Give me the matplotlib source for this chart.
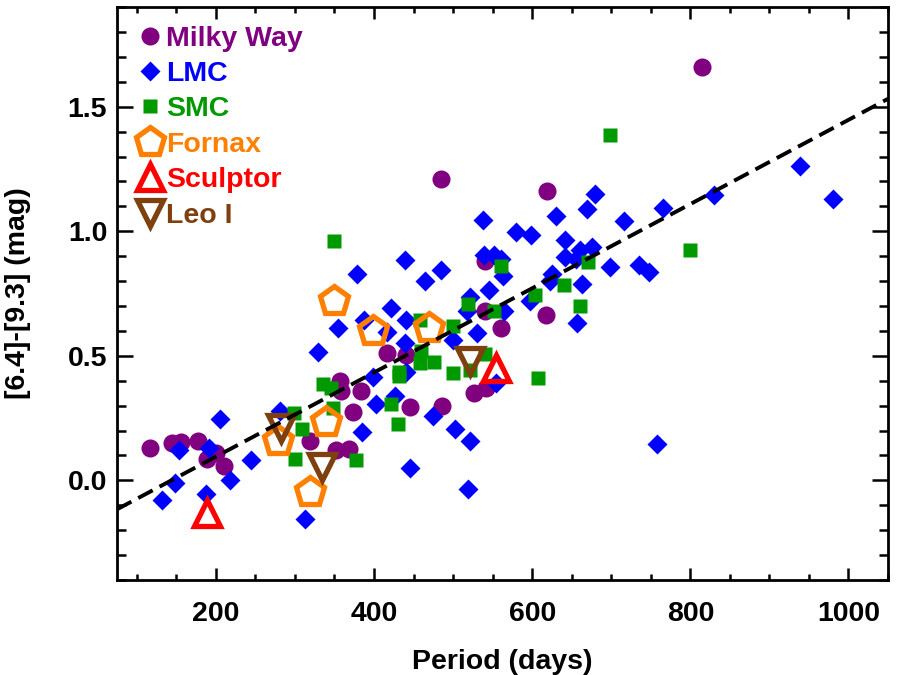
import numpy as np
import matplotlib
matplotlib.use("Agg")
import matplotlib.pyplot as plt
from matplotlib.ticker import MultipleLocator

plt.rcParams['font.family'] = ['Liberation Sans', 'DejaVu Sans']
plt.rcParams['font.weight'] = 'bold'

# period (days), [6.4]-[9.3] colour (mag)
mw_p = [117, 145, 156, 178, 189, 200, 210, 319, 352, 369, 357, 358, 384, 374,
        417, 440, 446, 486, 485, 527, 542, 540, 540, 561, 617, 619, 815]
mw_c = [0.13, 0.15, 0.155, 0.16, 0.085, 0.11, 0.057, 0.16, 0.12, 0.125, 0.40, 0.36,
        0.36, 0.275, 0.51, 0.505, 0.295, 0.297, 1.21, 0.35, 0.37, 0.88, 0.68, 0.61,
        0.665, 1.16, 1.66]

lmc_p = [132, 149, 153, 187, 191, 205, 218, 245, 281, 313, 329, 355, 379, 385, 388,
         399, 403, 417, 422, 426, 439, 439, 441, 440, 445, 465, 474, 485, 500, 502,
         517, 519, 521, 522, 530, 538, 539, 546, 552, 554, 561, 563, 565, 579, 597,
         599, 623, 625, 630, 641, 641, 656, 657, 660, 663, 669, 676, 680, 699, 716,
         735, 748, 758, 765, 830, 939, 980]
lmc_c = [-0.08, -0.01, 0.12, -0.055, 0.13, 0.245, 0.0, 0.08, 0.28, -0.155, 0.515, 0.61,
         0.83, 0.195, 0.645, 0.415, 0.305, 0.595, 0.69, 0.34, 0.55, 0.885, 0.645, 0.437,
         0.05, 0.80, 0.26, 0.845, 0.565, 0.205, 0.68, -0.035, 0.735, 0.16, 0.59, 1.045,
         0.905, 0.765, 0.905, 0.39, 0.89, 0.82, 0.68, 0.995, 0.72, 0.985, 0.80, 0.83,
         1.06, 0.965, 0.895, 0.89, 0.63, 0.925, 0.79, 1.09, 0.935, 1.15, 0.855, 1.04,
         0.865, 0.835, 0.145, 1.095, 1.145, 1.26, 1.13]

smc_p = [299, 300, 309, 335, 346, 348, 350, 377, 422, 430, 432, 432, 458, 459, 458,
         476, 500, 500, 519, 521, 540, 552, 560, 603, 607, 640, 660, 670, 699, 800]
smc_c = [0.27, 0.085, 0.207, 0.385, 0.37, 0.29, 0.96, 0.082, 0.308, 0.227, 0.437, 0.42,
         0.645, 0.52, 0.47, 0.477, 0.43, 0.62, 0.708, 0.444, 0.508, 0.68, 0.86, 0.745,
         0.41, 0.785, 0.70, 0.877, 1.385, 0.925]

fornax_p = [279, 319, 339, 350, 399, 469]
fornax_c = [0.16, -0.045, 0.235, 0.72, 0.60, 0.61]

sculptor_p = [189, 554]
sculptor_c = [-0.13, 0.45]

leo_p = [282, 334, 522]
leo_c = [0.21, 0.055, 0.48]

# linear fit drawn as dashed line
fit_slope = 0.00169
fit_icpt = -0.243
fit_p = [75, 1050]

purple = '#800080'
blue = '#0000ff'
green = '#009900'
orange = '#ff8000'
red = '#ff0000'
brown = '#7f4010'

fig = plt.figure(figsize=(8.97, 6.75), dpi=100)
ax = fig.add_axes([0.1304, 0.1407, 0.8596, 0.8489])

ax.plot(mw_p, mw_c, 'o', ms=13, color=purple, mec='none', label='Milky Way')
ax.plot(lmc_p, lmc_c, 'D', ms=10.2, color=blue, mec='none', label='LMC')
ax.plot(smc_p, smc_c, 's', ms=10, color=green, mec='none', label='SMC')
ax.plot(fornax_p, fornax_c, 'p', ms=21, mfc='none', mec=orange, mew=3.8, label='Fornax')
ax.plot(sculptor_p, sculptor_c, '^', ms=18.5, mfc='none', mec=red, mew=3.8, label='Sculptor')
ax.plot(leo_p, leo_c, 'v', ms=18.5, mfc='none', mec=brown, mew=3.8, label='Leo I')

fx = np.array(fit_p)
ax.plot(fx, fit_slope * fx + fit_icpt, color='black', lw=2.8,
        dashes=(4.2, 2.0), zorder=5)

ax.set_xlim(75, 1050)
ax.set_ylim(-0.4, 1.9)
ax.xaxis.set_major_locator(MultipleLocator(200))
ax.xaxis.set_minor_locator(MultipleLocator(50))
ax.yaxis.set_major_locator(MultipleLocator(0.5))
ax.yaxis.set_minor_locator(MultipleLocator(0.1))
ax.yaxis.set_major_formatter(matplotlib.ticker.FormatStrFormatter('%.1f'))

for s in ax.spines.values():
    s.set_linewidth(2)
ax.tick_params(which='both', direction='in', top=True, right=True, width=1.8,
               labelsize=20.5)
ax.tick_params(axis='x', which='major', length=8.5, pad=15)
ax.tick_params(axis='x', which='minor', length=4)
ax.tick_params(axis='y', which='major', length=11.5, pad=7)
ax.tick_params(axis='y', which='minor', length=6.5)

ax.set_xlabel('Period (days)', fontsize=20.5, fontweight='bold')
ax.set_ylabel('[6.4]-[9.3] (mag)', fontsize=20.5, fontweight='bold')
ax.xaxis.set_label_coords(0.5, -0.12)
ax.yaxis.set_label_coords(-0.112, 0.5)

leg = ax.legend(loc='upper left', frameon=False, numpoints=1,
                handlelength=1.0, handletextpad=0.08, labelspacing=0.33,
                borderaxespad=0.35, borderpad=0.3,
                prop={'weight': 'bold', 'size': 20.5})
for txt, col in zip(leg.get_texts(), [purple, blue, green, orange, red, brown]):
    txt.set_color(col)

fig.savefig('out.png', dpi=100)
